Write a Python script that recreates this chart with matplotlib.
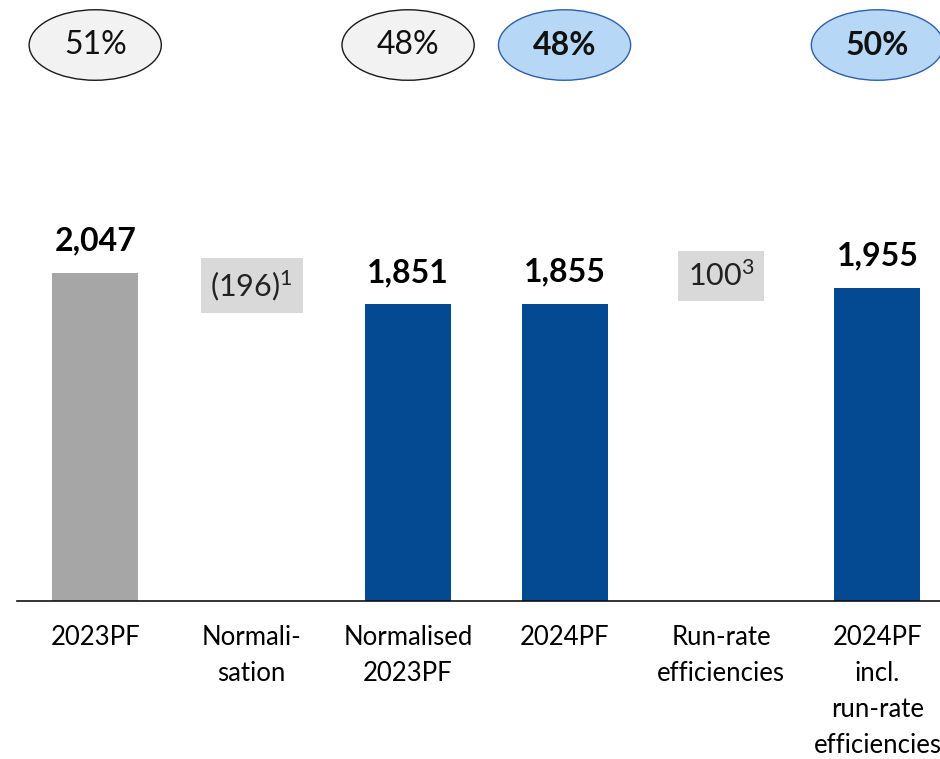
import numpy as np
import matplotlib
matplotlib.use("Agg")
import matplotlib.pyplot as plt
from matplotlib.patches import Ellipse

plt.rcParams['font.family'] = ['Lato', 'DejaVu Sans']
plt.rcParams['mathtext.fontset'] = 'custom'
plt.rcParams['mathtext.rm'] = 'Lato'
plt.rcParams['mathtext.it'] = 'Lato'

# data
categories = ["2023PF", "Normali-\nsation", "Normalised\n2023PF", "2024PF",
              "Run-rate\nefficiencies", "2024PF\nincl.\nrun-rate\nefficiencies"]
bar_values = [2047, np.nan, 1851, 1855, np.nan, 1955]
bar_labels = ["2,047", "", "1,851", "1,855", "", "1,955"]
delta_labels = {1: r"(196)$^{\mathrm{1}}$", 4: r"100$^{\mathrm{3}}$"}
margin_labels = {0: "51%", 2: "48%", 3: "48%", 5: "50%"}
margin_highlight = {0: False, 2: False, 3: True, 5: True}

grey = "#A6A6A6"
blue = "#044A93"
bar_colors = [grey, "none", blue, blue, "none", blue]

fig = plt.figure(figsize=(9.4, 7.59), dpi=100)
ax = fig.add_axes([17 / 940, 158 / 759, 923 / 940, 601 / 759])

x = np.arange(len(categories))
ax.bar(x, np.nan_to_num(bar_values), width=0.55, color=bar_colors)

ax.set_xlim(-0.5, 5.4)
ax.set_ylim(0, 3751)

for i, (v, lab) in enumerate(zip(bar_values, bar_labels)):
    if lab:
        ax.annotate(lab, (i, v), xytext=(0, 16), textcoords="offset points",
                    ha="center", va="baseline", fontsize=23, fontweight="bold")

# delta boxes (grey labels between bars)
delta_y = {1: (bar_values[0] + bar_values[2]) / 2 + 20, 4: bar_values[5] + 75}
for i, lab in delta_labels.items():
    ax.text(i, delta_y[i], lab, ha="center", va="center", fontsize=22, color="#222222",
            bbox=dict(boxstyle="square,pad=0.32", fc="#D9D9D9", ec="none"))

# margin ellipses
for i, lab in margin_labels.items():
    hl = margin_highlight[i]
    e = Ellipse((i, 3470), 0.845, 440, fc="#B7D7F7" if hl else "#F2F2F2",
                ec="#2F5FA8" if hl else "#1A1A1A", lw=1.0, clip_on=False)
    ax.add_patch(e)
    ax.text(i, 3470, lab, ha="center", va="center", fontsize=23,
            fontweight="bold" if hl else "normal", color="#111111")

for s in ["top", "right", "left"]:
    ax.spines[s].set_visible(False)
ax.spines["bottom"].set_linewidth(1.2)
ax.spines["bottom"].set_color("#111111")
ax.set_yticks([])
ax.set_xticks(x)
ax.set_xticklabels(categories, fontsize=18.5, linespacing=1.55)
ax.tick_params(axis="x", length=0, pad=17)

fig.savefig("out.png", dpi=100)
